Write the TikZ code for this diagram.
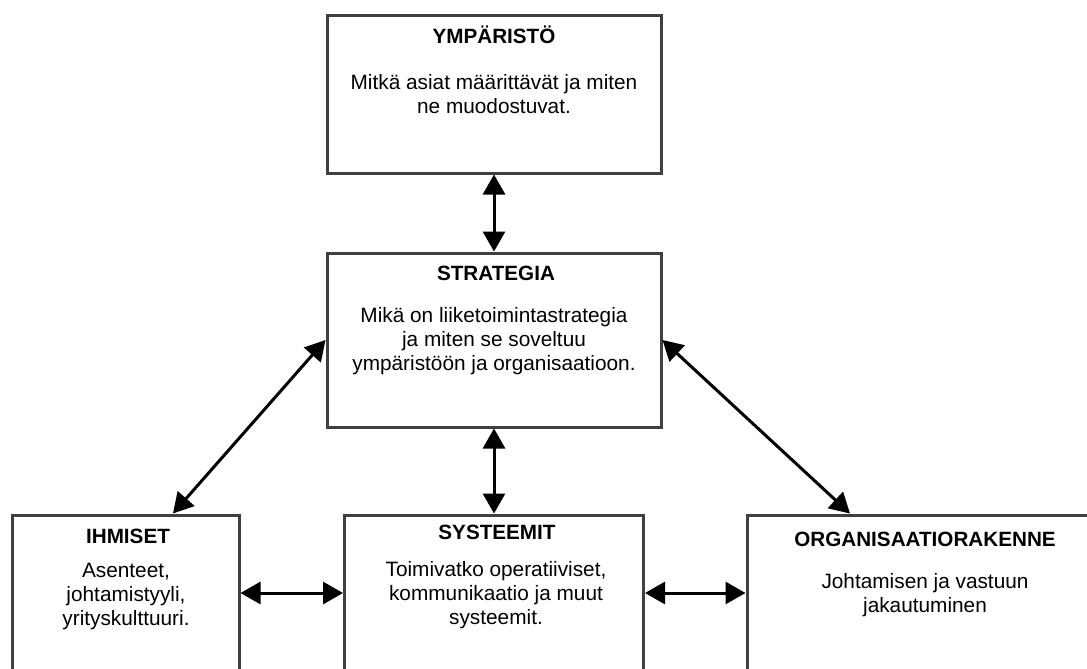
\documentclass[tikz,border=0pt]{standalone}
\usepackage{fontspec}
\setmainfont{Liberation Sans}
\usetikzlibrary{arrows.meta}

\tikzset{
  box/.style={draw=black!75, line width=2.25pt, rectangle, inner sep=0pt},
  ttl/.style={anchor=base, inner sep=0pt, font=\bfseries\fontsize{15.5}{18}\selectfont},
  txt/.style={anchor=base, inner sep=0pt, align=center, font=\fontsize{15.6}{18}\selectfont},
  link/.style={{Triangle[length=15pt,width=16.5pt]}-{Triangle[length=15pt,width=16.5pt]}, line width=2.25pt},
}

\begin{document}
\begin{tikzpicture}[x=0.75pt,y=-0.75pt]
\useasboundingbox (0,0) rectangle (1087,668);
\clip (0,0) rectangle (1087,668);
% boxes
\node[box, minimum width=250.5pt, minimum height=118.5pt] (ymp) at (494,94) {};
\node[box, minimum width=250.5pt, minimum height=130.5pt] (str) at (494,340) {};
\node[box, minimum width=170.25pt, minimum height=117pt] (ihm) at (125.5,593) {};
\node[box, minimum width=224.25pt, minimum height=117pt] (sys) at (494,593) {};
\node[box, minimum width=267pt, minimum height=117pt] (org) at (925,593) {};
% texts (base = last line)
\node[ttl] (ympt) at (494,43) {YMPÄRISTÖ};
\node[txt] (ympb) at (494,113) {Mitkä asiat määrittävät ja miten\\ne muodostuvat.};
\node[ttl] (strt) at (496,280) {STRATEGIA};
\node[txt] (strb) at (494,370) {Mikä on liiketoimintastrategia\\ja miten se soveltuu\\ympäristöön ja organisaatioon.};
\node[ttl] (ihmt) at (128,543) {IHMISET};
\node[txt] (ihmb) at (126,625) {Asenteet,\\johtamistyyli,\\yrityskulttuuri.};
\node[ttl] (syst) at (497,539) {SYSTEEMIT};
\node[txt] (sysb) at (496,624) {Toimivatko operatiiviset,\\kommunikaatio ja muut\\systeemit.};
\node[ttl] (orgt) at (925,546) {ORGANISAATIORAKENNE};
\node[txt] (orgb) at (925,612) {Johtamisen ja vastuun\\jakautuminen};
% connectors
\draw[link] (ymp.south) -- (str.north);
\draw[link] (str.south) -- (sys.north);
\draw[link] (str.west) -- ([xshift=35.6pt]ihm.north);
\draw[link] (str.east) -- ([xshift=-56.25pt]org.north);
\draw[link] (ihm.east) -- (sys.west);
\draw[link] (sys.east) -- (org.west);
\end{tikzpicture}
\end{document}
